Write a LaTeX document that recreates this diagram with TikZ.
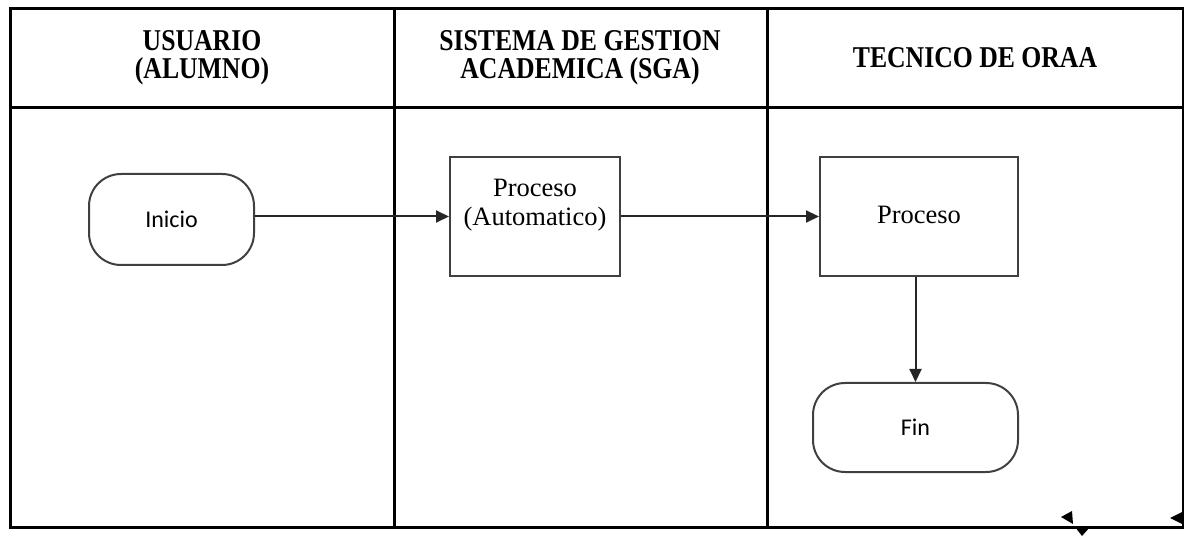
\documentclass[tikz,border=0pt]{standalone}
\usepackage{fontspec}
\setmainfont{Liberation Serif}
\newfontfamily\calibri{Carlito}
\usetikzlibrary{arrows.meta,positioning}

\newcommand{\alto}[1]{\scalebox{0.97}[1.14]{#1}}

\tikzset{
  carril/.style={line width=3pt,black},
  cabecera/.style={font=\fontsize{26.5}{28}\selectfont\bfseries,align=center,inner sep=0pt},
  proceso/.style={draw=black!75,line width=2pt,fill=white,font=\fontsize{26.5}{29}\selectfont,align=center},
  terminal/.style={draw=black!75,line width=2pt,rounded corners=32pt,font=\calibri\fontsize{24}{26}\selectfont},
  flecha/.style={-{Triangle[length=13pt,width=12pt]},line width=2pt,black!85},
  trozo/.style={fill=black}
}

\begin{document}
\begin{tikzpicture}[x=1pt,y=-1pt]
 \useasboundingbox (0,0) rectangle (1184,537);

    % Draw lanes
    \draw [carril] (10,9) rectangle (1183,527);
    \draw [carril] (10,108) -- (1183,108);
    \draw [carril] (394,9) coordinate (d_1) -- (394,527);
    \draw [carril] (767,9) coordinate (d_2) -- (767,527);

    \node[cabecera] (usuario) at (202,58) {\alto{USUARIO}\\\alto{(ALUMNO)}};
    \node[cabecera] (sga) at (580,58) {\alto{SISTEMA DE GESTION}\\\alto{ACADEMICA (SGA)}};
    \node[cabecera] (tecnico) at (975,58) {\alto{TECNICO DE ORAA}};

    % Draw steps
    \node[terminal,minimum width=165pt,minimum height=91pt] (inicio) at (171.5,219.5) {Inicio};
    \node[proceso,minimum width=170pt,minimum height=119pt,
      label={[proceso,draw=none,fill=none,inner sep=0pt,anchor=north,yshift=-22pt]north:Proceso\\(Automatico)}] (auto) at (535,216.5) {};
    \node[proceso,minimum width=198pt,minimum height=119pt] (proc) at (919,216.5) {\raisebox{3pt}{Proceso}};
    \node[terminal,minimum width=205pt,minimum height=89pt] (fin) at (915.5,427.5) {Fin};

    \draw [flecha] (inicio.east |- auto.west) -- (auto.west);
    \draw [flecha] (auto.east) -- (proc.west);
    \draw [flecha] (fin.north |- proc.south) -- (fin.north);

    % stray tips at the bottom
    \fill [trozo] (1061,517) -- (1072,511) -- (1073,524) -- cycle;
    \fill [trozo] (1075,527) -- (1090,527) -- (1082,536) -- cycle;
    \fill [trozo] (1170,518) -- (1182,512) -- (1182,524) -- cycle;


\end{tikzpicture}
\end{document}
